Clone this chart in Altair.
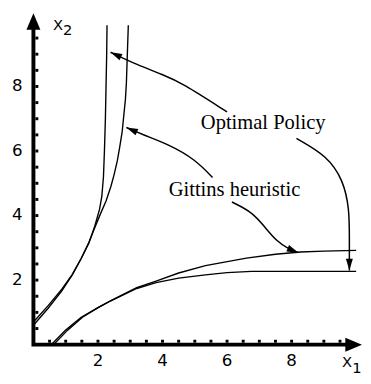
import math
import altair as alt
import pandas as pd

# ---- curves (data units) ----
opt_up_x = [0.0, 0.45, 0.88, 1.2, 1.48, 1.72, 1.9, 2.05, 2.12, 2.17, 2.2, 2.23, 2.25, 2.27, 2.28]
opt_up_y = [0.6, 1.12, 1.67, 2.15, 2.67, 3.15, 3.67, 4.2, 4.6, 5.2, 6.0, 7.0, 8.0, 9.0, 9.9]
git_up_x = [0.0, 0.45, 0.88, 1.2, 1.48, 1.72, 1.9, 2.08, 2.25, 2.4, 2.5, 2.6, 2.67, 2.75, 2.8, 2.85, 2.88, 2.91, 2.94]
git_up_y = [0.7, 1.2, 1.72, 2.17, 2.67, 3.17, 3.62, 4.06, 4.45, 4.9, 5.27, 5.7, 6.1, 6.6, 7.1, 7.6, 8.1, 9.0, 9.9]
opt_lo_x = [0.55, 1.0, 1.48, 2.0, 2.4, 3.2, 3.8, 4.5, 5.33, 6.0, 6.76, 10.0]
opt_lo_y = [0.0, 0.45, 0.85, 1.15, 1.36, 1.74, 1.92, 2.06, 2.16, 2.23, 2.27, 2.27]
git_lo_x = [0.62, 1.06, 1.52, 2.03, 2.43, 3.2, 3.8, 4.5, 5.33, 6.6, 7.5, 8.27, 9.0, 10.0]
git_lo_y = [0.0, 0.45, 0.85, 1.16, 1.38, 1.77, 1.97, 2.22, 2.45, 2.68, 2.8, 2.87, 2.9, 2.92]

# ---- annotation leaders (data units, last point = arrow tip) ----
a1_x = [6.0, 4.58, 4.03, 3.21, 2.39]
a1_y = [7.21, 8.12, 8.36, 8.67, 9.06]
a2_x = [5.55, 5.0, 4.2, 3.4, 2.88]
a2_y = [5.18, 5.75, 6.2, 6.5, 6.73]
a3_x = [8.15, 9.1, 9.6, 9.79, 9.79, 9.79]
a3_y = [6.39, 5.85, 5.1, 4.2, 3.3, 2.3]
a4_x = [6.15, 6.8, 7.2, 7.55, 7.85, 8.21]
a4_y = [4.42, 4.1, 3.6, 3.2, 3.0, 2.85]

labels_text = ["Optimal Policy", "Gittins heuristic"]
labels_x = [7.12, 6.23]
labels_y = [6.85, 4.79]

# ---- axes ----
tick_vals = [2, 4, 6, 8]
minor_x = [i * 0.5 for i in range(1, 20)]
minor_y = [i * 0.5 for i in range(1, 20)]
axis_x_end = 9.68
axis_y_end = 9.76
axis_x_tip = 10.18
axis_y_tip = 10.27

XS = alt.Scale(domain=[0, 10])
YS = alt.Scale(domain=[0, 10])


def X(f="x"):
    return alt.X(f, type="quantitative", scale=XS, axis=None)


def Y(f="y"):
    return alt.Y(f, type="quantitative", scale=YS, axis=None)


rows = []
for name, xs, ys in [("opt_up", opt_up_x, opt_up_y), ("git_up", git_up_x, git_up_y),
                     ("opt_lo", opt_lo_x, opt_lo_y), ("git_lo", git_lo_x, git_lo_y)]:
    for i, (a, b) in enumerate(zip(xs, ys)):
        rows.append({"s": name, "i": i, "x": a, "y": b})
curves = pd.DataFrame(rows)

rows = []
heads = []
for name, xs, ys in [("a1", a1_x, a1_y), ("a2", a2_x, a2_y), ("a3", a3_x, a3_y), ("a4", a4_x, a4_y)]:
    for i, (a, b) in enumerate(zip(xs, ys)):
        rows.append({"s": name, "i": i, "x": a, "y": b})
    dx = xs[-1] - xs[-2]
    dy = ys[-1] - ys[-2]
    ang = math.degrees(math.atan2(dx, dy)) % 360
    heads.append({"x": xs[-1], "y": ys[-1], "a": ang})
leaders = pd.DataFrame(rows)
heads = pd.DataFrame(heads)

curve_layer = alt.Chart(curves).mark_line(color="black", strokeWidth=1.4).encode(
    x=X(), y=Y(), detail="s:N", order="i:Q")
leader_layer = alt.Chart(leaders).mark_line(color="black", strokeWidth=1.5, interpolate="basis").encode(
    x=X(), y=Y(), detail="s:N", order="i:Q")
head_layer = alt.Chart(heads).mark_point(
    shape="M0,0L-0.3,1L0.3,1Z", filled=True, color="black", opacity=1, size=560, strokeWidth=0
).encode(x=X(), y=Y(), angle=alt.Angle("a:Q", scale=None))

text_layer = alt.Chart(pd.DataFrame({"x": labels_x, "y": labels_y, "t": labels_text})).mark_text(
    font="Liberation Serif", fontSize=21, color="black", align="center", baseline="middle"
).encode(x=X(), y=Y(), text="t:N")

# axis lines
axes_df = pd.DataFrame({"x": [0, 0, axis_x_end], "y": [axis_y_end, 0, 0], "i": [0, 1, 2]})
axis_line = alt.Chart(axes_df).mark_line(color="black", strokeWidth=4, strokeCap="square").encode(
    x=X(), y=Y(), order="i:Q")
axis_heads = alt.Chart(pd.DataFrame({"x": [0, axis_x_tip], "y": [axis_y_tip, 0], "a": [0, 90]})).mark_point(
    shape="M0,0L-0.42,1L0.42,1Z", filled=True, color="black", opacity=1, size=1156, strokeWidth=0
).encode(x=X(), y=Y(), angle=alt.Angle("a:Q", scale=None))

mx = alt.Chart(pd.DataFrame({"x": minor_x, "y": [0] * len(minor_x)})).mark_square(
    color="black", size=9, opacity=1, yOffset=-3.5).encode(x=X(), y=Y())
my = alt.Chart(pd.DataFrame({"x": [0] * len(minor_y), "y": minor_y})).mark_square(
    color="black", size=9, opacity=1, xOffset=3.5).encode(x=X(), y=Y())

xl = alt.Chart(pd.DataFrame({"x": tick_vals, "y": [-0.52] * 4, "t": [str(v) for v in tick_vals]})).mark_text(
    font="DejaVu Sans", fontSize=17, color="black", align="center", baseline="middle").encode(
    x=X(), y=Y(), text="t:N")
yl = alt.Chart(pd.DataFrame({"x": [-0.5] * 4, "y": tick_vals, "t": [str(v) for v in tick_vals]})).mark_text(
    font="DejaVu Sans", fontSize=17, color="black", align="center", baseline="middle").encode(
    x=X(), y=Y(), text="t:N")

name_df = pd.DataFrame({"x": [0.76, 1.06, 9.72, 10.02], "y": [9.9, 9.75, -0.55, -0.72],
                        "t": ["X", "2", "X", "1"]})
names = alt.Chart(name_df).mark_text(
    font="DejaVu Sans", fontSize=15, color="black", align="center", baseline="middle").encode(
    x=X(), y=Y(), text="t:N")

chart = alt.layer(
    curve_layer, leader_layer, head_layer, text_layer, axis_line, axis_heads, mx, my, xl, yl, names
).properties(
    width=330, height=330,
    autosize=alt.AutoSizeParams(type="none"),
    padding={"left": 26, "top": 10, "right": 7, "bottom": 36},
    background="white",
).configure_view(stroke=None)

chart.save("out.html", embed_options={"renderer": "svg", "actions": False})
